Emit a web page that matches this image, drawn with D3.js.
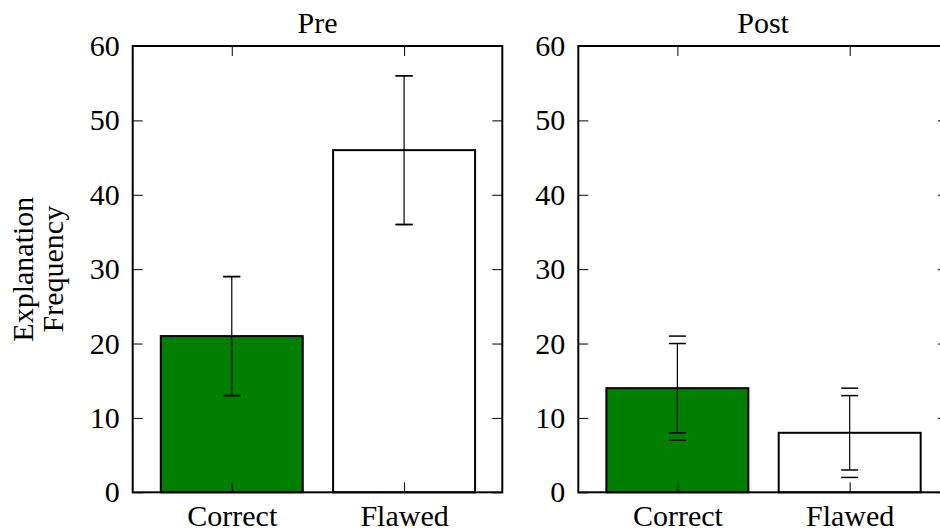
<!DOCTYPE html>
<html>
<head>
<meta charset="utf-8">
<script src="https://cdn.jsdelivr.net/npm/d3@7/dist/d3.min.js"></script>
<style>
  body { margin: 0; background: #fff; }
  svg { display: block; }
  text { font-family: "Liberation Serif", "Times New Roman", serif; fill: #000; }
</style>
</head>
<body>
<svg id="chart" width="940" height="529"></svg>
<script>
// ---- data ----
const categories = ["Correct", "Flawed"];
const panelTitles = ["Pre", "Post"];
const preValues = [21, 46];
const postValues = [14, 8];
// error bars drawn with a line (low, high)
const preErrLow = [13, 36];
const preErrHigh = [29, 56];
const postErrLow = [8, 3];
const postErrHigh = [20, 13];
// second set of error caps (caps only)
const preCapLow = [13, 36];
const preCapHigh = [29, 56];
const postCapLow = [7, 2];
const postCapHigh = [21, 14];
const yTicks = [0, 10, 20, 30, 40, 50, 60];
const yLabelLines = ["Explanation", "Frequency"];
const barColors = ["#007f00", "#ffffff"];

const panels = [
  { title: panelTitles[0], values: preValues, lo: preErrLow, hi: preErrHigh, clo: preCapLow, chi: preCapHigh, left: 132.7 },
  { title: panelTitles[1], values: postValues, lo: postErrLow, hi: postErrHigh, clo: postCapLow, chi: postCapHigh, left: 578.3 }
];

const svg = d3.select("#chart");
const panelW = 369.6, plotTop = 46, plotBottom = 492.3;
const barWidth = 0.824;
const capHalf = 8.5;
const tickLen = 10;

const y = d3.scaleLinear().domain([0, 60]).range([plotBottom, plotTop]);

panels.forEach(p => {
  const x = d3.scaleLinear().domain([-0.575, 1.57]).range([p.left, p.left + panelW]);
  const g = svg.append("g");

  // bars
  g.selectAll("rect.bar").data(p.values).enter().append("rect")
    .attr("class", "bar")
    .attr("x", (d, i) => x(i - barWidth / 2))
    .attr("width", (d, i) => x(i + barWidth / 2) - x(i - barWidth / 2))
    .attr("y", d => y(d))
    .attr("height", d => y(0) - y(d))
    .attr("fill", (d, i) => barColors[i])
    .attr("stroke", "#000")
    .attr("stroke-width", 2);

  // error lines
  g.selectAll("line.err").data(p.values).enter().append("line")
    .attr("x1", (d, i) => x(i)).attr("x2", (d, i) => x(i))
    .attr("y1", (d, i) => y(p.lo[i])).attr("y2", (d, i) => y(p.hi[i]))
    .attr("stroke", "#000").attr("stroke-width", 1.2);

  const caps = [];
  p.values.forEach((d, i) => {
    caps.push({ i, v: p.lo[i] }, { i, v: p.hi[i] }, { i, v: p.clo[i] }, { i, v: p.chi[i] });
  });
  g.selectAll("line.cap").data(caps).enter().append("line")
    .attr("x1", d => x(d.i) - capHalf).attr("x2", d => x(d.i) + capHalf)
    .attr("y1", d => y(d.v)).attr("y2", d => y(d.v))
    .attr("stroke", "#000").attr("stroke-width", 1.5);

  // y axis left (inward ticks with labels)
  const yAxisL = d3.axisLeft(y).tickValues(yTicks).tickSize(-tickLen).tickPadding(13);
  const gl = g.append("g").attr("transform", `translate(${p.left},0)`).call(yAxisL);
  gl.select(".domain").remove();
  gl.selectAll(".tick line").attr("stroke", "#000").attr("stroke-width", 1);
  gl.selectAll(".tick text").style("font-size", "30px").attr("font-family", "Liberation Serif");

  // y axis right (inward ticks, no labels)
  const yAxisR = d3.axisRight(y).tickValues(yTicks).tickSize(-tickLen).tickFormat("");
  const gr = g.append("g").attr("transform", `translate(${p.left + panelW},0)`).call(yAxisR);
  gr.select(".domain").remove();
  gr.selectAll(".tick line").attr("stroke", "#000").attr("stroke-width", 1);

  // x axis bottom
  const xAxisB = d3.axisBottom(x).tickValues([0, 1]).tickSize(-tickLen).tickPadding(10)
    .tickFormat(i => categories[i]);
  const gb = g.append("g").attr("transform", `translate(0,${plotBottom})`).call(xAxisB);
  gb.select(".domain").remove();
  gb.selectAll(".tick line").attr("stroke", "#000").attr("stroke-width", 1);
  gb.selectAll(".tick text").style("font-size", "30px").attr("font-family", "Liberation Serif").attr("dy", null).attr("y", 34);

  // x axis top
  const xAxisT = d3.axisTop(x).tickValues([0, 1]).tickSize(-tickLen).tickFormat("");
  const gt = g.append("g").attr("transform", `translate(0,${plotTop})`).call(xAxisT);
  gt.select(".domain").remove();
  gt.selectAll(".tick line").attr("stroke", "#000").attr("stroke-width", 1);

  // spines
  g.append("rect")
    .attr("x", p.left).attr("y", plotTop)
    .attr("width", panelW).attr("height", plotBottom - plotTop)
    .attr("fill", "none").attr("stroke", "#000").attr("stroke-width", 2);

  // title
  g.append("text")
    .attr("x", p.left + panelW / 2).attr("y", 33)
    .attr("text-anchor", "middle")
    .style("font-size", "30px")
    .text(p.title);
});

// y label
const yl = svg.append("text")
  .attr("transform", `translate(33,${(plotTop + plotBottom) / 2}) rotate(-90)`)
  .attr("text-anchor", "middle")
  .style("font-size", "30px");
yl.selectAll("tspan").data(yLabelLines).enter().append("tspan")
  .attr("x", 0).attr("dy", (d, i) => i === 0 ? 0 : 30)
  .text(d => d);
</script>
</body>
</html>
